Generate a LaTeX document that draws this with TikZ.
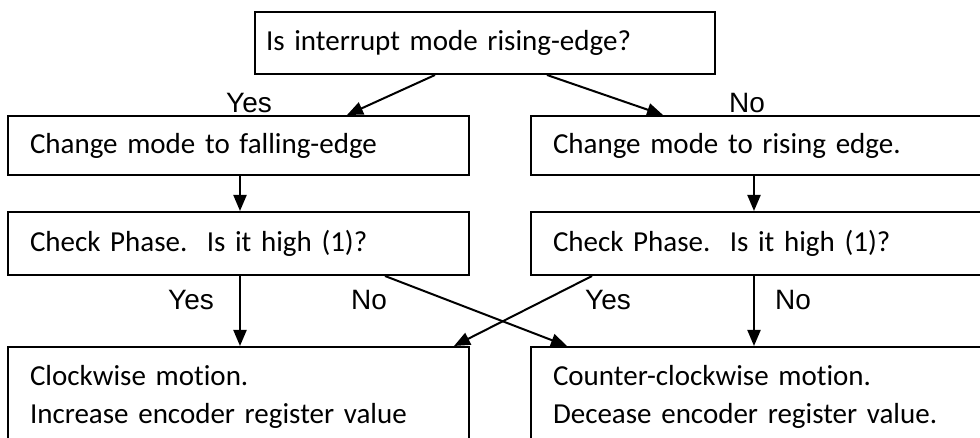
\documentclass[tikz,border=0pt]{standalone}
\usepackage{fontspec}
\setmainfont{Carlito}[Ligatures=CommonOff]
\newfontfamily\arialfont{Liberation Sans}
\usetikzlibrary{arrows.meta}

\begin{document}
\begin{tikzpicture}[x=1pt,y=-1pt,
        box/.style={draw, line width=2pt, anchor=north west, text width=417pt, align=left,
            inner xsep=22pt, inner ysep=0pt, font=\fontsize{29}{38}\selectfont},
        lbl/.style={font=\arialfont\fontsize{28}{30}\selectfont, inner sep=0pt},
        arr/.style={line width=2pt, -{Triangle[length=16pt,width=13pt]}}]
        \useasboundingbox (0,0) rectangle (980,438);
        \clip (0,0) rectangle (980,438);

        % Question
        \node[box, text width=438pt, inner xsep=11pt, minimum height=62pt] (query) at (254,11) {Is interrupt mode rising-edge?};

        % Left column
        \node[box, minimum height=59pt] (fall) at (7,115) {Change mode to falling-edge};
        \node[box, minimum height=63pt] (phaseL) at (7,211) {Check Phase.\ \ Is it high (1)?};
        \node[box, inner ysep=18pt] (cw) at (7,346) {Clockwise motion.\\Increase encoder register value};

        % Right column
        \node[box, minimum height=59pt] (rise) at (530,115) {Change mode to rising edge.};
        \node[box, minimum height=63pt] (phaseR) at (530,211) {Check Phase.\ \ Is it high (1)?};
        \node[box, inner ysep=18pt] (ccw) at (530,346) {Counter-clockwise motion.\\Decease encoder register value.};

        % Arrows
        \draw[arr] ([xshift=181pt]query.south west) -- ([xshift=340pt]fall.north west);
        \draw[arr] ([xshift=293pt]query.south west) -- ([xshift=133pt]rise.north west);
        \draw[arr] ([xshift=233pt]fall.south west) -- ([xshift=233pt]phaseL.north west);
        \draw[arr] ([xshift=224pt]rise.south west) -- ([xshift=224pt]phaseR.north west);
        \draw[arr] ([xshift=233pt]phaseL.south west) -- ([xshift=233pt]cw.north west);
        \draw[arr] ([xshift=224pt]phaseR.south west) -- ([xshift=224pt]ccw.north west);
        \draw[arr] ([xshift=378pt]phaseL.south west) -- ([xshift=37pt]ccw.north west);
        \draw[arr] ([xshift=62pt]phaseR.south west) -- ([xshift=447pt]cw.north west);

        % Yes / No
        \node[lbl] (yesTop) at (249,103) {Yes};
        \node[lbl] (noTop) at (747,103) {No};
        \node[lbl] (yesL) at (191,300) {Yes};
        \node[lbl] (noL) at (369,300) {No};
        \node[lbl] (yesR) at (608,300) {Yes};
        \node[lbl] (noR) at (793,300) {No};
    \end{tikzpicture}
\end{document}
